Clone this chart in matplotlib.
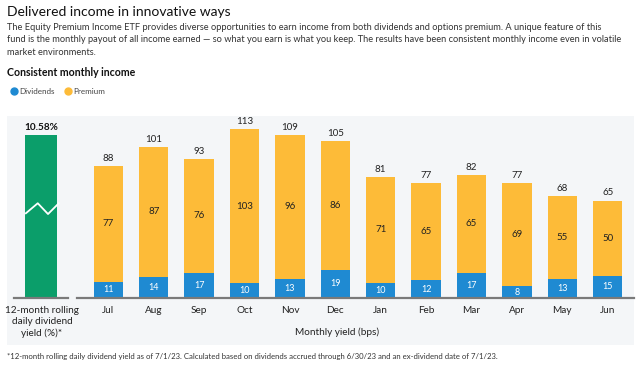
import matplotlib
matplotlib.use("Agg")
import matplotlib.pyplot as plt
from matplotlib.patches import Rectangle
from matplotlib.lines import Line2D
import numpy as np

plt.rcParams['font.family'] = ['Lato', 'DejaVu Sans']

# data
months = ['Jul', 'Aug', 'Sep', 'Oct', 'Nov', 'Dec', 'Jan', 'Feb', 'Mar', 'Apr', 'May', 'Jun']
dividends = [11, 14, 17, 10, 13, 19, 10, 12, 17, 8, 13, 15]
premium = [77, 87, 76, 103, 96, 86, 71, 65, 65, 69, 55, 50]
totals = [88, 101, 93, 113, 109, 105, 81, 77, 82, 77, 68, 65]
rolling_yield = 10.58

title = 'Delivered income in innovative ways'
body = ('The Equity Premium Income ETF provides diverse opportunities to earn income from both dividends and options premium. A unique feature of this\n'
        'fund is the monthly payout of all income earned \u2014 so what you earn is what you keep. The results have been consistent monthly income even in volatile\n'
        'market environments.')
subtitle = 'Consistent monthly income'
footnote = '*12-month rolling daily dividend yield as of 7/1/23. Calculated based on dividends accrued through 6/30/23 and an ex-dividend date of 7/1/23.'

c_div = '#1f8ad2'
c_prem = '#fdbb38'
c_green = '#0b9e6a'
c_panel = '#f4f6f8'
c_axis = '#7a7a7a'
c_text = '#222222'

W, H = 640, 366
fig = plt.figure(figsize=(W / 100, H / 100), dpi=100)
fig.patch.set_facecolor('white')

def fx(px):
    return px / W

def fy(py):
    return 1 - py / H

# grey panel behind the chart
fig.add_artist(Rectangle((fx(7), fy(345)), fx(634) - fx(7), fy(116) - fy(345),
                         transform=fig.transFigure, facecolor=c_panel, edgecolor='none', zorder=0))

# header text
fig.text(fx(7), fy(12), title, fontsize=10, color='#111111', va='center', ha='left')
fig.text(fx(7), fy(40), body, fontsize=6.7, color='#333333', va='center', ha='left', linespacing=1.45)
fig.text(fx(7), fy(72), subtitle, fontsize=7.6, color='#111111', va='center', ha='left', fontweight='bold')

handles = [Line2D([], [], marker='o', ls='', color=c_div, markersize=5),
           Line2D([], [], marker='o', ls='', color=c_prem, markersize=5)]
fig.legend(handles, ['Dividends', 'Premium'], loc='center left', bbox_to_anchor=(fx(3), fy(91)),
           ncol=2, frameon=False, fontsize=5.8, handletextpad=0.1, columnspacing=1.2,
           handlelength=1.0, labelcolor='#444444')

# main monthly chart
ax = fig.add_axes([fx(77), fy(298), fx(634) - fx(77), fy(118.5) - fy(298)])
ax.patch.set_visible(False)
x = np.arange(len(months))
ax.bar(x, dividends, width=0.65, color=c_div, zorder=2)
ax.bar(x, premium, bottom=dividends, width=0.65, color=c_prem, zorder=2)
for i in range(len(months)):
    ax.text(x[i], dividends[i] / 2, str(dividends[i]), ha='center', va='center',
            fontsize=6.5, color='white')
    ax.text(x[i], dividends[i] + premium[i] / 2, str(premium[i]), ha='center', va='center',
            fontsize=7, color=c_text)
    ax.text(x[i], totals[i] + 2.2, str(totals[i]), ha='center', va='bottom',
            fontsize=7, color=c_text)
ax.set_xlim(-0.69, 11.58)
ax.set_ylim(0, 120)
ax.set_xticks(x)
ax.set_xticklabels(months, fontsize=7.2, color=c_text)
ax.tick_params(axis='x', length=0, pad=6)
ax.set_yticks([])
for s in ['top', 'right', 'left']:
    ax.spines[s].set_visible(False)
ax.spines['bottom'].set_color(c_axis)
ax.spines['bottom'].set_linewidth(1.6)
fig.text(fx(337), fy(332), 'Monthly yield (bps)', fontsize=7.2, color=c_text, ha='center', va='center')

# rolling yield bar with break mark
ax2 = fig.add_axes([fx(14), fy(298), fx(68) - fx(14), fy(118.5) - fy(298)])
ax2.patch.set_visible(False)
ax2.bar([0.5], [rolling_yield], width=0.61, color=c_green, zorder=2)
ax2.text(0.5, rolling_yield + 0.2, f'{rolling_yield:.2f}%', ha='center', va='bottom',
         fontsize=7.2, color='#111111', fontweight='bold')
ax2.set_xlim(0, 1)
ax2.set_ylim(0, rolling_yield * 179.5 / 163)
zx = [0.22, 0.44, 0.63, 0.83]
zy = [5.5, 6.15, 5.45, 6.15]
ax2.plot(zx, zy, color='white', lw=1.3, zorder=3)
ax2.set_xticks([])
ax2.set_yticks([])
for s in ['top', 'right', 'left']:
    ax2.spines[s].set_visible(False)
ax2.spines['bottom'].set_color(c_axis)
ax2.spines['bottom'].set_linewidth(1.6)
fig.text(fx(42), fy(322), '12-month rolling\ndaily dividend\nyield (%)*', fontsize=7.2, color=c_text,
         ha='center', va='center', linespacing=1.25)

fig.text(fx(7), fy(357), footnote, fontsize=5.6, color='#333333', ha='left', va='center')

fig.savefig('out.png', dpi=100)
